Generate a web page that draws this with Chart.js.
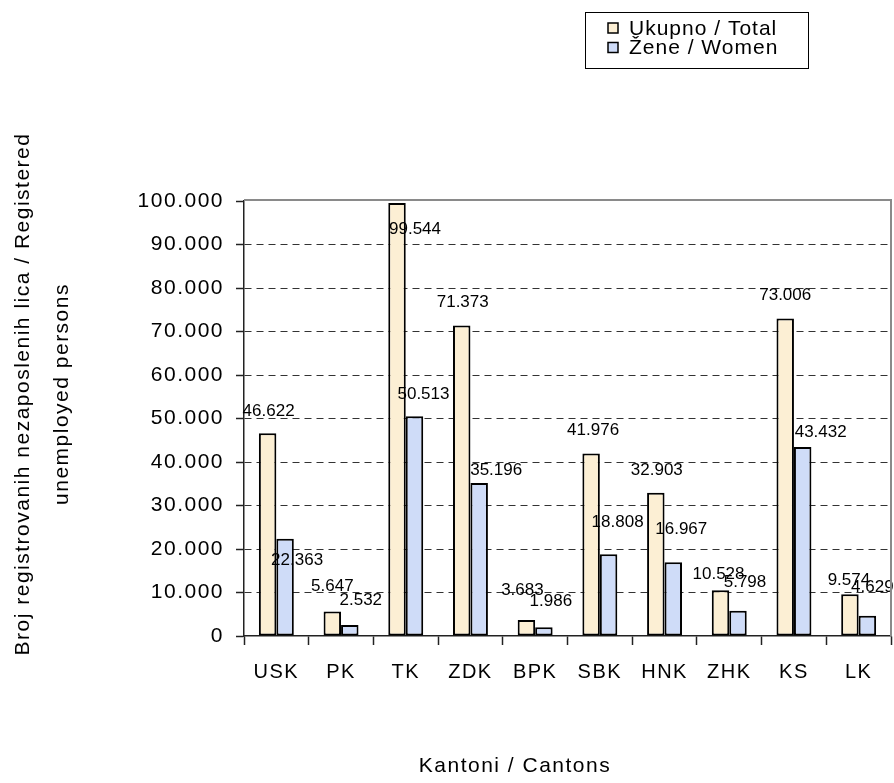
<!DOCTYPE html>
<html lang="bs">
<head>
    <meta charset="UTF-8">
    <title>Registrovani nezaposleni po kantonima</title>
    <style>
        html, body { margin: 0; padding: 0; background: #fff; }
        .chart-box { position: relative; width: 894px; height: 783px; }
    </style>
</head>
<body>
    <div class="chart-box">
        <canvas id="chart-unemployed"></canvas>
    </div>
    <script src="https://cdn.jsdelivr.net/npm/chart.js"></script>
    <script>
        // Podaci sa grafikona
        const cantons = ["USK", "PK", "TK", "ZDK", "BPK", "SBK", "HNK", "ZHK", "KS", "LK"];
        const totalValues = [46622, 5647, 99544, 71373, 3683, 41976, 32903, 10528, 73006, 9574];
        const womenValues = [22363, 2532, 50513, 35196, 1986, 18808, 16967, 5798, 43432, 4629];
        const seriesNames = ["Ukupno / Total", "Žene / Women"];
        const yTicks = [0, 10000, 20000, 30000, 40000, 50000, 60000, 70000, 80000, 90000, 100000];

        const FONT = "'Liberation Sans', Arial, sans-serif";
        const colors = { total: "#fcefd4", women: "#cfdcf8" };

        // pomak oznaka vrijednosti u odnosu na vrh stupca (dx, dy)
        const totalLabelShift = [[1,-22],[0,-25],[18,26],[1,-23],[-4,-30],[2,-23],[1,-23],[-2,-16],[0,-23],[-1,-14]];
        const womenLabelShift = [[12,22],[11,-25],[9,-22],[17,-13],[7,-26],[9,-32],[8,-33],[7,-28],[18,-15],[5,-29]];

        function fmt(v) {
            return String(v).replace(/\B(?=(\d{3})+(?!\d))/g, ".");
        }

        const spacingPlugin = {
            id: "spacing",
            beforeDraw(chart) { chart.ctx.letterSpacing = "1.5px"; }
        };

        const labelsPlugin = {
            id: "valueLabels",
            afterDatasetsDraw(chart) {
                const ctx = chart.ctx;
                ctx.save();
                ctx.letterSpacing = "0px";
                ctx.font = "17px " + FONT;
                ctx.fillStyle = "#000";
                ctx.textAlign = "center";
                ctx.textBaseline = "middle";
                [totalLabelShift, womenLabelShift].forEach((shift, d) => {
                    const meta = chart.getDatasetMeta(d);
                    meta.data.forEach((bar, i) => {
                        const v = chart.data.datasets[d].data[i];
                        ctx.fillText(fmt(v), bar.x + shift[i][0], bar.y + shift[i][1]);
                    });
                });
                ctx.restore();
            }
        };

        const decorPlugin = {
            id: "decor",
            afterDraw(chart) {
                const ctx = chart.ctx;
                const a = chart.chartArea;
                ctx.save();
                // siva okvirna linija gore i desno
                ctx.strokeStyle = "#8a8a8a";
                ctx.lineWidth = 2;
                ctx.beginPath();
                ctx.moveTo(a.left, a.top - 1);
                ctx.lineTo(a.right, a.top - 1);
                ctx.lineTo(a.right, a.bottom);
                ctx.stroke();

                ctx.fillStyle = "#000";
                ctx.letterSpacing = "1.5px";
                ctx.font = "21px " + FONT;
                ctx.textAlign = "center";
                ctx.textBaseline = "middle";
                // naslov x ose
                ctx.fillText("Kantoni / Cantons", 515, 766);
                // naslov y ose (dva reda)
                ctx.save();
                ctx.translate(23, 394);
                ctx.rotate(-Math.PI / 2);
                ctx.fillText("Broj registrovanih nezaposlenih lica / Registered", 0, 0);
                ctx.restore();
                ctx.save();
                ctx.translate(62, 394);
                ctx.rotate(-Math.PI / 2);
                ctx.fillText("unemployed persons", 0, 0);
                ctx.restore();

                // legenda
                ctx.strokeStyle = "#000";
                ctx.lineWidth = 1;
                ctx.strokeRect(585.5, 12.5, 223, 56);
                ctx.letterSpacing = "1px";
                ctx.font = "21px " + FONT;
                ctx.textAlign = "left";
                [colors.total, colors.women].forEach((c, i) => {
                    const cy = 28 + i * 19.5;
                    ctx.fillStyle = c;
                    ctx.fillRect(608, cy - 5, 10, 10);
                    ctx.lineWidth = 1.5;
                    ctx.strokeRect(608, cy - 5, 10, 10);
                    ctx.fillStyle = "#000";
                    ctx.fillText(seriesNames[i], 629, cy + 1);
                });
                ctx.restore();
            }
        };

        document.addEventListener("DOMContentLoaded", function() {
            const ctx = document.getElementById("chart-unemployed").getContext("2d");
            new Chart(ctx, {
                type: "bar",
                data: {
                    labels: cantons,
                    datasets: [
                        { label: seriesNames[0], data: totalValues, backgroundColor: colors.total,
                          borderColor: "#000", borderWidth: 2, borderSkipped: false },
                        { label: seriesNames[1], data: womenValues, backgroundColor: colors.women,
                          borderColor: "#000", borderWidth: 2, borderSkipped: false }
                    ]
                },
                options: {
                    responsive: true,
                    maintainAspectRatio: false,
                    animation: false,
                    datasets: { bar: { categoryPercentage: 0.54, barPercentage: 1.0 } },
                    layout: { padding: { top: 201, right: 3, bottom: 0, left: 0 } },
                    plugins: { legend: { display: false }, tooltip: { enabled: false } },
                    scales: {
                        x: {
                            afterFit(scale) { scale.height = 147; },
                            grid: { drawOnChartArea: false, drawTicks: true, tickLength: 9, tickColor: "#222", tickWidth: 1.5 },
                            border: { color: "#222", width: 1.5 },
                            ticks: { color: "#000", font: { family: FONT, size: 20 }, padding: 15 }
                        },
                        y: {
                            min: 0,
                            max: 100000,
                            afterFit(scale) { scale.width = 244; },
                            afterBuildTicks(scale) { scale.ticks = yTicks.map(v => ({ value: v })); },
                            grid: {
                                color: c => (c.tick && (c.tick.value === 100000 || c.tick.value === 0)) ? "rgba(0,0,0,0)" : "#333",
                                lineWidth: 1,
                                tickLength: 8,
                                tickColor: "#222",
                                tickWidth: 1.5
                            },
                            border: { color: "#222", width: 1.5, dash: [7, 5] },
                            ticks: {
                                color: "#000",
                                font: { family: FONT, size: 21 },
                                padding: 12,
                                callback: v => fmt(v)
                            }
                        }
                    }
                },
                plugins: [spacingPlugin, labelsPlugin, decorPlugin]
            });
        });
    </script>
</body>
</html>
